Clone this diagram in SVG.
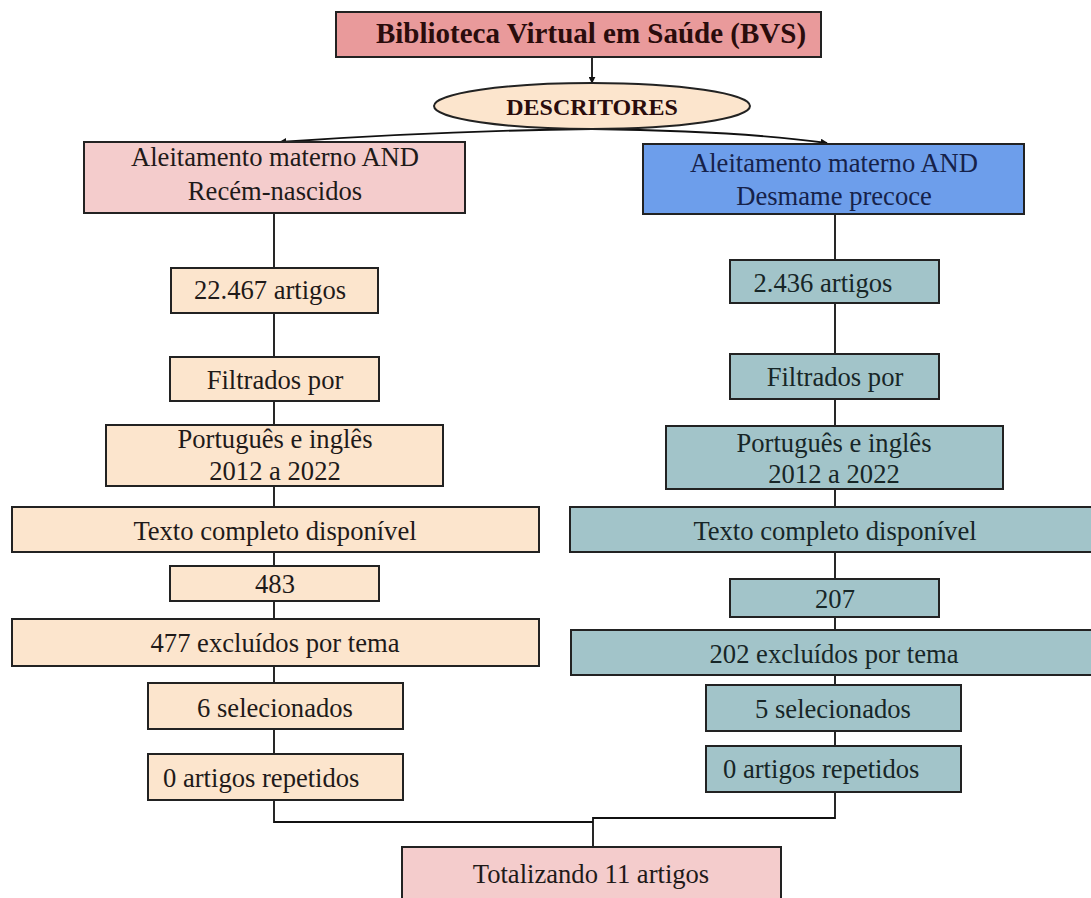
<svg xmlns="http://www.w3.org/2000/svg" width="1091" height="898" viewBox="0 0 1091 898">
<defs>
<style>
.box{stroke:#222;stroke-width:2}
.t{font-family:"Liberation Serif","Times New Roman",serif;font-size:26.6px;fill:#1f1a19;text-anchor:middle}
.tb{font-family:"Liberation Serif","Times New Roman",serif;font-weight:bold;fill:#2a0c0c;text-anchor:middle}
.red{fill:#e99a9b}
.pink{fill:#f4cccc}
.peach{fill:#fce5cd}
.blue{fill:#6d9eeb}
.teal{fill:#a2c4c9}
.tt{fill:#172627}
.tn{fill:#16224a}
.c{fill:none;stroke:#111;stroke-width:1.8}
</style>
<marker id="ah" viewBox="0 0 10 10" refX="9" refY="5" markerWidth="7" markerHeight="7" orient="auto" markerUnits="userSpaceOnUse">
<path d="M0,0 L10,5 L0,10 z" fill="#111"/>
</marker>
</defs>
<rect width="1091" height="898" fill="#ffffff"/>

<g id="connectors">
<line class="c" x1="592" y1="57" x2="592" y2="83" marker-end="url(#ah)"/>
<path class="c" d="M592,129 Q440,131 280,142" marker-end="url(#ah)"/>
<path class="c" d="M592,129 Q740,131 827,143" marker-end="url(#ah)"/>
<path class="c" d="M274,213 V268 M274,313 V357 M274,401 V425 M274,486 V507 M274,552 V566 M274,601 V619 M274,666 V683 M274,729 V754 M274,800 V822 H593"/>
<path class="c" d="M835,214 V260 M835,303 V354 M835,399 V426 M835,489 V507 M835,552 V579 M835,617 V630 M835,675 V685 M835,731 V746 M835,792 V818 H593 V847"/>
</g>

<g id="bvs">
<rect class="box red" x="336" y="12" width="485" height="45"/>
<text class="tb" x="591" y="43" font-size="29">Biblioteca Virtual em Saúde (BVS)</text>
</g>

<g id="descritores">
<ellipse class="box peach" cx="592" cy="106" rx="158" ry="23"/>
<text class="tb" x="592" y="115" font-size="24">DESCRITORES</text>
</g>

<g id="left-query">
<rect class="box pink" x="84" y="142" width="381" height="71"/>
<text class="t" x="275" y="166">Aleitamento materno AND</text>
<text class="t" x="275" y="200">Recém-nascidos</text>
</g>
<g id="right-query">
<rect class="box blue" x="643" y="144" width="381" height="70"/>
<text class="t tn" x="834" y="172">Aleitamento materno AND</text>
<text class="t tn" x="834" y="205">Desmame precoce</text>
</g>

<g id="left-artigos">
<rect class="box peach" x="171" y="268" width="207" height="45"/>
<text class="t" x="270" y="299" font-size="28">22.467 artigos</text>
</g>
<g id="right-artigos">
<rect class="box teal" x="730" y="260" width="209" height="43"/>
<text class="t tt" x="823" y="292">2.436 artigos</text>
</g>

<g id="left-filtrados">
<rect class="box peach" x="170" y="357" width="209" height="44"/>
<text class="t" x="275" y="389">Filtrados por</text>
</g>
<g id="right-filtrados">
<rect class="box teal" x="730" y="354" width="209" height="45"/>
<text class="t tt" x="835" y="386">Filtrados por</text>
</g>

<g id="left-idioma">
<rect class="box peach" x="106" y="425" width="337" height="61"/>
<text class="t" x="275" y="448">Português e inglês</text>
<text class="t" x="275" y="480">2012 a 2022</text>
</g>
<g id="right-idioma">
<rect class="box teal" x="666" y="426" width="337" height="63"/>
<text class="t tt" x="834" y="452">Português e inglês</text>
<text class="t tt" x="834" y="483">2012 a 2022</text>
</g>

<g id="left-texto">
<rect class="box peach" x="12" y="507" width="527" height="45"/>
<text class="t" x="275" y="540">Texto completo disponível</text>
</g>
<g id="right-texto">
<rect class="box teal" x="570" y="507" width="530" height="45"/>
<text class="t tt" x="835" y="540">Texto completo disponível</text>
</g>

<g id="left-483">
<rect class="box peach" x="170" y="566" width="209" height="35"/>
<text class="t" x="275" y="593">483</text>
</g>
<g id="right-207">
<rect class="box teal" x="730" y="579" width="209" height="38"/>
<text class="t tt" x="835" y="608">207</text>
</g>

<g id="left-excluidos">
<rect class="box peach" x="12" y="619" width="527" height="47"/>
<text class="t" x="275" y="652">477 excluídos por tema</text>
</g>
<g id="right-excluidos">
<rect class="box teal" x="571" y="630" width="530" height="45"/>
<text class="t tt" x="834" y="663">202 excluídos por tema</text>
</g>

<g id="left-selecionados">
<rect class="box peach" x="148" y="683" width="255" height="46"/>
<text class="t" x="275" y="717">6 selecionados</text>
</g>
<g id="right-selecionados">
<rect class="box teal" x="706" y="685" width="255" height="46"/>
<text class="t tt" x="833" y="718">5 selecionados</text>
</g>

<g id="left-repetidos">
<rect class="box peach" x="148" y="754" width="255" height="46"/>
<text class="t" x="163" y="787" style="text-anchor:start">0 artigos repetidos</text>
</g>
<g id="right-repetidos">
<rect class="box teal" x="706" y="746" width="255" height="46"/>
<text class="t tt" x="723" y="778" style="text-anchor:start">0 artigos repetidos</text>
</g>

<g id="total">
<rect class="box pink" x="402" y="847" width="379" height="65"/>
<text class="t" x="591" y="883">Totalizando 11 artigos</text>
</g>
</svg>
